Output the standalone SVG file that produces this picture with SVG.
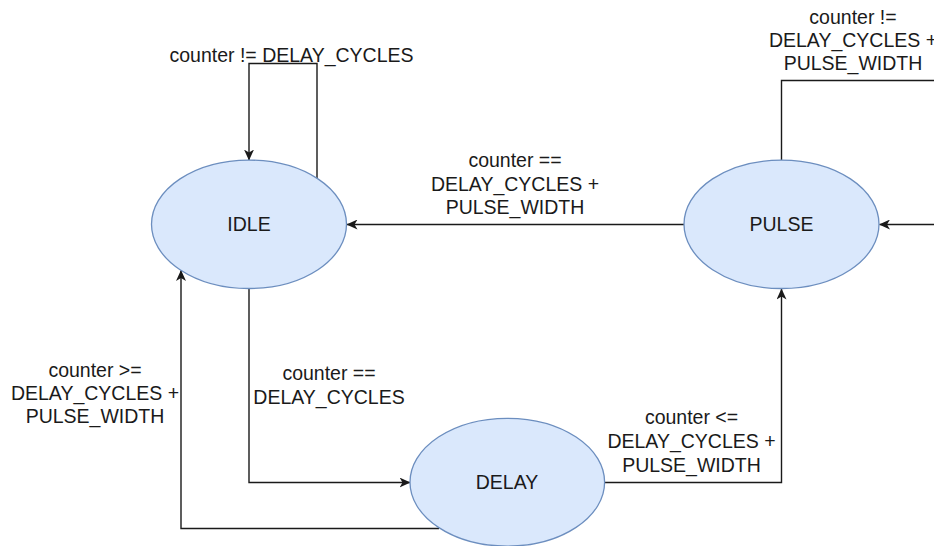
<svg xmlns="http://www.w3.org/2000/svg" width="934" height="546" viewBox="0 0 934 546">
  <style>
    .state { fill: #dae8fc; stroke: #6c8ebf; stroke-width: 1.3; }
    .name { font-family: "Liberation Sans", Arial, sans-serif; font-size: 19.5px; fill: #1a1a1a; text-anchor: middle; }
    .edge { fill: none; stroke: #1a1a1a; stroke-width: 1.4; }
    .cond { font-family: "Liberation Sans", Arial, sans-serif; font-size: 19.5px; fill: #1a1a1a; text-anchor: middle; }
  </style>
  <defs>
    <marker id="arrow" viewBox="0 0 11 10" refX="10.5" refY="5" markerWidth="11" markerHeight="10" markerUnits="userSpaceOnUse" orient="auto">
      <path d="M0,0 L11,5 L0,10 L3,5 Z" fill="#1a1a1a"/>
    </marker>
  </defs>
  <rect width="934" height="546" fill="#ffffff"/>

  <!-- transitions -->
  <g id="connectors">
    <!-- IDLE stays IDLE -->
    <path class="edge" d="M317,178.5 V63.5 H249 V160" marker-end="url(#arrow)"/>
    <!-- PULSE back to IDLE -->
    <path class="edge" d="M684,224.5 H347" marker-end="url(#arrow)"/>
    <!-- PULSE stays PULSE -->
    <path class="edge" d="M781.5,160 V80.5 H945 V224.5 H879.5" marker-end="url(#arrow)"/>
    <!-- IDLE to DELAY -->
    <path class="edge" d="M249,288 V482.5 H410" marker-end="url(#arrow)"/>
    <!-- DELAY back to IDLE -->
    <path class="edge" d="M439,528.5 H181 V270.5" marker-end="url(#arrow)"/>
    <!-- DELAY to PULSE -->
    <path class="edge" d="M604.5,482.5 H781.5 V289" marker-end="url(#arrow)"/>

    <text class="cond" x="291.5" y="61.5">counter != DELAY_CYCLES</text>
    <text class="cond" x="515" y="167">counter ==<tspan x="515" dy="23.5">DELAY_CYCLES +</tspan><tspan x="515" dy="23.5">PULSE_WIDTH</tspan></text>
    <text class="cond" x="853" y="24">counter !=<tspan x="853" dy="23.2">DELAY_CYCLES +</tspan><tspan x="853" dy="23.2">PULSE_WIDTH</tspan></text>
    <text class="cond" x="329" y="380">counter ==<tspan x="329" dy="24">DELAY_CYCLES</tspan></text>
    <text class="cond" x="95" y="377">counter &gt;=<tspan x="95" dy="22.8">DELAY_CYCLES +</tspan><tspan x="95" dy="22.8">PULSE_WIDTH</tspan></text>
    <text class="cond" x="691.5" y="423.5">counter &lt;=<tspan x="691.5" dy="24">DELAY_CYCLES +</tspan><tspan x="691.5" dy="24">PULSE_WIDTH</tspan></text>
  </g>

  <!-- states -->
  <g id="idle">
    <ellipse class="state" cx="249" cy="224.3" rx="97.5" ry="64.2"/>
    <text class="name" x="249" y="231">IDLE</text>
  </g>
  <g id="pulse">
    <ellipse class="state" cx="781.5" cy="224.3" rx="97.5" ry="64.2"/>
    <text class="name" x="781.5" y="231">PULSE</text>
  </g>
  <g id="delay">
    <ellipse class="state" cx="507.3" cy="482.2" rx="97.3" ry="63.9"/>
    <text class="name" x="507" y="489">DELAY</text>
  </g>
</svg>
